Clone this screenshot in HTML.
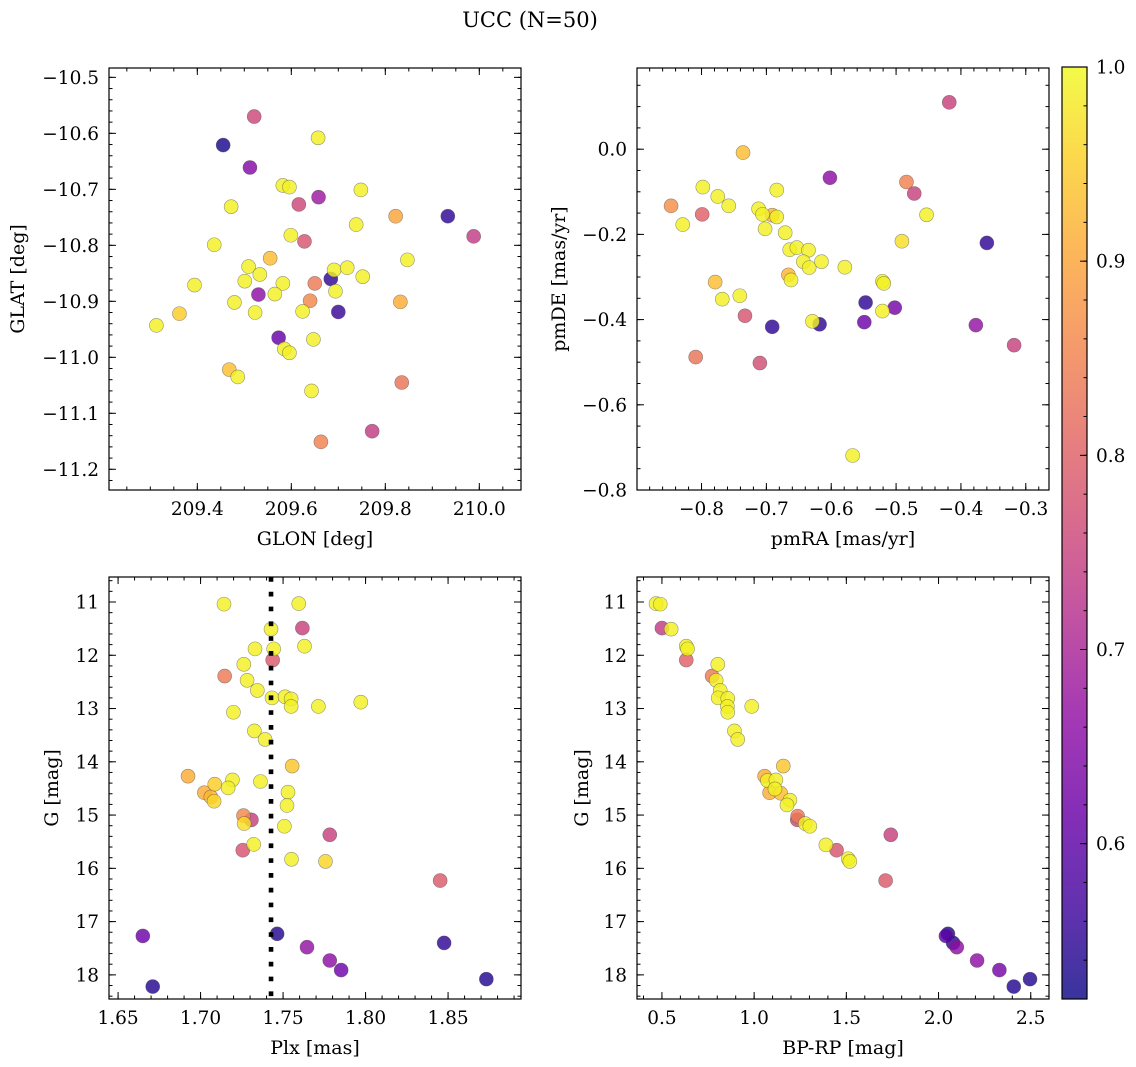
<!DOCTYPE html>
<html><head><meta charset="utf-8"><title>UCC (N=50)</title>
<style>
html,body{margin:0;padding:0;background:#fff;}
svg{display:block;font-family:"DejaVu Serif","Liberation Serif",serif;}
</style></head>
<body>
<svg id="fig" xmlns="http://www.w3.org/2000/svg" width="1136" height="1067" viewBox="0 0 1136 1067">
<rect width="1136" height="1067" fill="#fff"/>
<text x="530" y="27" font-size="21" text-anchor="middle" fill="#000">UCC (N=50)</text>
</svg>
<script>
// ---------- DATA ----------
// Panel 1: GLON vs GLAT
const glonTL = [209.521,209.455,209.657,209.512,209.582,209.596,209.748,209.658,209.616,209.472,209.822,209.933,209.988,209.738,209.599,209.628,209.436,209.555,209.847,209.509,209.533,209.691,209.719,209.752,209.684,209.501,209.582,209.650,209.394,209.530,209.565,209.694,209.640,209.832,209.479,209.624,209.523,209.700,209.362,209.313,209.573,209.647,209.585,209.596,209.468,209.486,209.643,209.835,209.772,209.663];
const glatTL = [-10.570,-10.621,-10.608,-10.661,-10.693,-10.696,-10.701,-10.714,-10.727,-10.731,-10.748,-10.748,-10.784,-10.763,-10.782,-10.793,-10.799,-10.823,-10.826,-10.838,-10.852,-10.844,-10.840,-10.856,-10.860,-10.864,-10.868,-10.868,-10.871,-10.888,-10.887,-10.882,-10.899,-10.901,-10.902,-10.918,-10.920,-10.919,-10.922,-10.943,-10.965,-10.968,-10.985,-10.992,-11.022,-11.035,-11.060,-11.045,-11.132,-11.151];
const probTL = [0.76,0.53,0.99,0.65,0.99,0.99,0.99,0.68,0.76,0.99,0.90,0.55,0.74,0.99,0.99,0.78,0.99,0.93,0.99,0.99,0.99,0.99,0.99,0.99,0.55,0.99,0.99,0.84,0.99,0.66,0.99,0.99,0.86,0.91,0.99,0.99,0.99,0.56,0.95,0.99,0.61,0.99,0.99,0.99,0.93,0.99,0.99,0.83,0.74,0.85];
// Panel 2: pmRA vs pmDE
const pmraTR = [-0.418,-0.736,-0.602,-0.484,-0.472,-0.798,-0.684,-0.775,-0.847,-0.758,-0.799,-0.712,-0.706,-0.691,-0.684,-0.453,-0.829,-0.702,-0.671,-0.491,-0.360,-0.664,-0.653,-0.635,-0.643,-0.634,-0.615,-0.579,-0.666,-0.662,-0.779,-0.521,-0.519,-0.768,-0.741,-0.547,-0.502,-0.521,-0.733,-0.549,-0.629,-0.618,-0.691,-0.377,-0.318,-0.809,-0.710,-0.567];
const pmdeTR = [0.110,-0.008,-0.067,-0.077,-0.104,-0.089,-0.096,-0.111,-0.133,-0.133,-0.153,-0.140,-0.153,-0.155,-0.159,-0.154,-0.177,-0.187,-0.196,-0.216,-0.220,-0.236,-0.231,-0.237,-0.264,-0.278,-0.264,-0.277,-0.295,-0.307,-0.312,-0.310,-0.315,-0.352,-0.344,-0.360,-0.372,-0.380,-0.391,-0.406,-0.404,-0.411,-0.417,-0.413,-0.460,-0.488,-0.502,-0.719];
const probTR = [0.75,0.93,0.66,0.85,0.75,0.99,0.99,0.99,0.87,0.99,0.80,0.99,0.99,0.92,0.99,0.99,0.99,0.99,0.99,0.97,0.55,0.99,0.99,0.99,0.99,0.99,0.99,0.99,0.92,0.99,0.93,0.99,0.99,0.99,0.99,0.55,0.63,0.99,0.78,0.62,0.99,0.55,0.55,0.67,0.75,0.83,0.77,0.99];
// Panel 3: Plx vs G
const plxBL = [1.7142,1.7595,1.7427,1.7617,1.7330,1.7443,1.7630,1.7437,1.7262,1.7146,1.7282,1.7344,1.7433,1.7512,1.7549,1.7549,1.7714,1.7971,1.7199,1.7326,1.7391,1.7555,1.6924,1.7086,1.7193,1.7167,1.7363,1.7023,1.7062,1.7082,1.7530,1.7524,1.7260,1.7308,1.7264,1.7508,1.7783,1.7322,1.7256,1.7551,1.7757,1.8452,1.6650,1.7464,1.8476,1.7645,1.7783,1.7852,1.8732,1.6710];
const gBL = [11.04,11.03,11.51,11.49,11.88,11.88,11.83,12.09,12.17,12.39,12.47,12.66,12.80,12.78,12.82,12.96,12.96,12.88,13.07,13.42,13.58,14.08,14.27,14.42,14.34,14.49,14.37,14.58,14.66,14.74,14.57,14.82,15.01,15.09,15.16,15.21,15.37,15.55,15.66,15.83,15.87,16.23,17.27,17.23,17.40,17.48,17.73,17.91,18.08,18.22];
const probBL = [0.99,0.99,0.99,0.75,0.99,0.99,0.99,0.79,0.99,0.84,0.99,0.99,0.99,0.99,0.99,0.99,0.99,0.99,0.99,0.99,0.99,0.94,0.91,0.95,0.99,0.99,0.99,0.91,0.92,0.96,0.99,0.99,0.86,0.75,0.97,0.99,0.75,0.99,0.78,0.99,0.96,0.79,0.62,0.54,0.55,0.67,0.66,0.62,0.54,0.54];
const plxMedian = [1.7427];
// Panel 4: BP-RP vs G
const bprpBR = [0.468,0.491,0.500,0.550,0.632,0.639,0.632,0.803,0.772,0.794,0.816,0.805,0.857,0.855,0.857,0.987,0.893,0.911,1.158,1.057,1.072,1.118,1.113,1.084,1.144,1.194,1.178,1.236,1.234,1.277,1.302,1.741,1.389,1.447,1.510,1.519,1.713,2.051,2.040,2.079,2.099,2.209,2.330,2.408,2.496];
const gBR = [11.03,11.04,11.49,11.51,11.83,11.88,12.09,12.17,12.39,12.47,12.66,12.80,12.81,12.96,13.07,12.96,13.42,13.58,14.08,14.27,14.35,14.34,14.51,14.58,14.59,14.72,14.81,15.02,15.09,15.16,15.21,15.37,15.56,15.66,15.82,15.87,16.23,17.23,17.27,17.40,17.48,17.73,17.91,18.22,18.08];
const probBR = [0.99,0.99,0.74,0.99,0.99,0.99,0.80,0.99,0.84,0.99,0.99,0.99,0.99,0.99,0.99,0.99,0.99,0.99,0.94,0.91,0.99,0.99,0.99,0.91,0.93,0.99,0.99,0.84,0.76,0.99,0.99,0.75,0.99,0.78,0.99,0.99,0.79,0.54,0.60,0.55,0.66,0.66,0.63,0.54,0.54];
const cbarTicks = [0.6,0.7,0.8,0.9,1.0];

// ---------- RENDER ----------
const NS = "http://www.w3.org/2000/svg";
const svg = document.getElementById("fig");
const CMIN = 0.52, CMAX = 1.0;
const TFS = 18.5, LFS = 19;
const plasma = ["#0d0887","#41049d","#6a00a8","#8f0da4","#b12a90","#cc4778","#e16462","#f2844b","#fca636","#fcce25","#f0f921"];
function hex(h){return [parseInt(h.slice(1,3),16),parseInt(h.slice(3,5),16),parseInt(h.slice(5,7),16)];}
function cmap(v){
  let t=(v-CMIN)/(CMAX-CMIN); t=Math.max(0,Math.min(1,t));
  const p=t*10, i=Math.min(9,Math.floor(p)), f=p-i;
  const a=hex(plasma[i]), b=hex(plasma[i+1]);
  return "rgb("+a.map((c,k)=>Math.round(c+(b[k]-c)*f)).join(",")+")";
}
function mk(tag, attrs, parent){
  const e=document.createElementNS(NS,tag);
  for(const k in attrs) e.setAttribute(k,attrs[k]);
  (parent||svg).appendChild(e); return e;
}
function fmt(v,d){ const s=Math.abs(v).toFixed(d); return (v<-1e-9?"\u2212":"")+s; }
function ticks(lo,hi,step){
  const a=[]; const mn=Math.min(lo,hi), mx=Math.max(lo,hi);
  for(let k=Math.ceil(mn/step-1e-9); k*step<=mx+1e-9; k++) a.push(Math.round(k*step*1e6)/1e6);
  return a;
}

function panel(cfg){
  const {name,L,T,W,H,xd,yd,xs,ys,xm,ym,xdec,ydec,xlab,ylab,ylabX} = cfg;
  const g = mk("g",{});
  
  
  const X = v => L + (v-xd[0])/(xd[1]-xd[0])*W;
  const Y = v => T + (yd[1]-v)/(yd[1]-yd[0])*H;
  const pts = mk("g",{},g);
  
  
  const idx = cfg.xv.map((_,i)=>i).sort((a,b)=>cfg.pv[a]-cfg.pv[b]);
  idx.forEach(i=>{
    const c = mk("circle",{cx:X(cfg.xv[i]).toFixed(2),cy:Y(cfg.yv[i]).toFixed(2),r:7,fill:cmap(cfg.pv[i]),"fill-opacity":0.82,stroke:"#444","stroke-opacity":0.55,"stroke-width":0.6},pts);
    
    
  });
  if(cfg.vline){
    cfg.vline.forEach(v=>{
      const l = mk("line",{x1:X(v),x2:X(v),y1:T,y2:T+H,stroke:"#000","stroke-width":4.6,"stroke-dasharray":"4.7 10.1"},g);
      
      
    });
  }
  const fr = mk("rect",{x:L,y:T,width:W,height:H,fill:"none",stroke:"#000","stroke-width":1.2},g);
  
  
  const tg = mk("g",{stroke:"#000","stroke-width":1},g);
  
  
  const lo = (a)=>Math.min(a[0],a[1]), hi=(a)=>Math.max(a[0],a[1]);
  ticks(lo(xd),hi(xd),xm).forEach(v=>{const x=X(v); if(x<L+0.5||x>L+W-0.5)return; mk("line",{x1:x,x2:x,y1:T+H,y2:T+H-3.5},tg); mk("line",{x1:x,x2:x,y1:T,y2:T+3.5},tg);});
  ticks(lo(yd),hi(yd),ym).forEach(v=>{const y=Y(v); if(y<T+0.5||y>T+H-0.5)return; mk("line",{x1:L,x2:L+3.5,y1:y,y2:y},tg); mk("line",{x1:L+W,x2:L+W-3.5,y1:y,y2:y},tg);});
  ticks(lo(xd),hi(xd),xs).forEach(v=>{const x=X(v);
    mk("line",{x1:x,x2:x,y1:T+H,y2:T+H-7},tg); mk("line",{x1:x,x2:x,y1:T,y2:T+7},tg);
    const t=mk("text",{x:x,y:T+H+25,"font-size":TFS,"text-anchor":"middle",fill:"#000",stroke:"none"},g); t.textContent=fmt(v,xdec);
    
    
  });
  ticks(lo(yd),hi(yd),ys).forEach(v=>{const y=Y(v);
    mk("line",{x1:L,x2:L+7,y1:y,y2:y},tg); mk("line",{x1:L+W,x2:L+W-7,y1:y,y2:y},tg);
    const t=mk("text",{x:L-10,y:y+6.5,"font-size":TFS,"text-anchor":"end",fill:"#000",stroke:"none"},g); t.textContent=fmt(v,ydec);
    
    
  });
  const xl=mk("text",{x:L+W/2,y:T+H+55,"font-size":LFS,"text-anchor":"middle",fill:"#000"},g); xl.textContent=xlab;
  
  
  const cy=T+H/2;
  const yl=mk("text",{x:ylabX,y:cy,"font-size":LFS,"text-anchor":"middle",fill:"#000",transform:"rotate(-90 "+ylabX+" "+cy+")"},g); yl.textContent=ylab;
  
  
}

panel({name:"glon-glat-panel",L:109,T:68,W:412,H:422,xd:[209.2121,210.0887],yd:[-11.237,-10.4833],xs:0.2,ys:0.1,xm:0.05,ym:0.02,xdec:1,ydec:1,xlab:"GLON [deg]",ylab:"GLAT [deg]",ylabX:24,xv:glonTL,yv:glatTL,pv:probTL});
panel({name:"pm-panel",L:637,T:68,W:412,H:422,xd:[-0.8995,-0.2642],yd:[-0.8,0.1906],xs:0.1,ys:0.2,xm:0.02,ym:0.05,xdec:1,ydec:1,xlab:"pmRA [mas/yr]",ylab:"pmDE [mas/yr]",ylabX:565,xv:pmraTR,yv:pmdeTR,pv:probTR});
panel({name:"plx-g-panel",L:109,T:577,W:412,H:422,xd:[1.6445,1.8942],yd:[18.453,10.5307],xs:0.05,ys:1,xm:0.01,ym:0.2,xdec:2,ydec:0,xlab:"Plx [mas]",ylab:"G [mag]",ylabX:58,xv:plxBL,yv:gBL,pv:probBL,vline:plxMedian});
panel({name:"cmd-panel",L:637,T:577,W:412,H:422,xd:[0.3648,2.599],yd:[18.453,10.5307],xs:0.5,ys:1,xm:0.1,ym:0.2,xdec:1,ydec:0,xlab:"BP-RP [mag]",ylab:"G [mag]",ylabX:588,xv:bprpBR,yv:gBR,pv:probBR});

// Colorbar
(function(){
  const L=1062,T=67,W=25,H=932;
  const Yc = v => T + (CMAX-v)/(CMAX-CMIN)*H;
  const defs=mk("defs",{});
  const lg=mk("linearGradient",{id:"cbg",x1:0,y1:1,x2:0,y2:0},defs);
  for(let i=0;i<=20;i++){const v=CMIN+(CMAX-CMIN)*i/20; mk("stop",{offset:(i/20),"stop-color":cmap(v)},lg);}
  const g=mk("g",{});
  
  
  const r=mk("rect",{x:L,y:T,width:W,height:H,fill:"url(#cbg)","fill-opacity":0.82},g);
  
  
  mk("rect",{x:L,y:T,width:W,height:H,fill:"none",stroke:"#000","stroke-width":1.2},g);
  ticks(CMIN,CMAX,0.02).forEach(v=>{const y=Yc(v); if(y<T+0.5||y>T+H-0.5)return; mk("line",{x1:L+W,x2:L+W-3.5,y1:y,y2:y,stroke:"#000"},g);});
  cbarTicks.forEach(v=>{const y=Yc(v);
    mk("line",{x1:L+W,x2:L+W-7,y1:y,y2:y,stroke:"#000"},g);
    const t=mk("text",{x:L+W+9,y:y+6.5,"font-size":TFS,fill:"#000"},g); t.textContent=v.toFixed(1);
    
    
  });
})();
</script>
</body></html>
